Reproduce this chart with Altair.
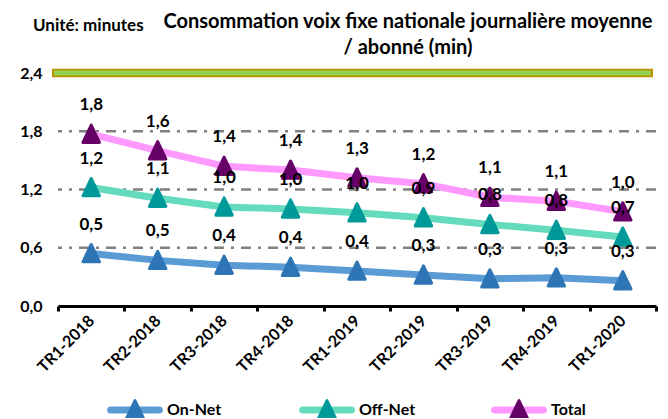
import altair as alt
import pandas as pd

categories = ["TR1-2018", "TR2-2018", "TR3-2018", "TR4-2018", "TR1-2019",
              "TR2-2019", "TR3-2019", "TR4-2019", "TR1-2020"]
series = ["On-Net", "Off-Net", "Total"]
on_net = [0.54, 0.47, 0.42, 0.40, 0.36, 0.32, 0.28, 0.29, 0.26]
off_net = [1.22, 1.11, 1.02, 1.00, 0.96, 0.91, 0.84, 0.78, 0.71]
total = [1.77, 1.60, 1.44, 1.40, 1.32, 1.26, 1.12, 1.08, 0.97]
on_net_labels = ["0,5", "0,5", "0,4", "0,4", "0,4", "0,3", "0,3", "0,3", "0,3"]
off_net_labels = ["1,2", "1,1", "1,0", "1,0", "1,0", "0,9", "0,8", "0,8", "0,7"]
total_labels = ["1,8", "1,6", "1,4", "1,4", "1,3", "1,2", "1,1", "1,1", "1,0"]
y_ticks = [0.0, 0.6, 1.2, 1.8, 2.4]
grid_values = [0.6, 1.2, 1.8]
top_value = [2.4]
title_lines = ["Consommation voix fixe nationale journalière moyenne", "/ abonné (min)"]
unit_text = ["Unité: minutes"]

line_colors = ["#5B9BD5", "#63DBBC", "#FF99FF"]
marker_colors = ["#2E75B6", "#009999", "#660066"]

FONT = "Lato"
W, H = 598, 233

rows = []
for name, vals, labs in zip(series, [on_net, off_net, total],
                            [on_net_labels, off_net_labels, total_labels]):
    for c, v, l in zip(categories, vals, labs):
        rows.append({"period": c, "series": name, "value": v, "label": l})
df = pd.DataFrame(rows)
legend_df = pd.DataFrame({"series": series})
grid_df = pd.DataFrame({"value": grid_values})
top_df = pd.DataFrame({"value": top_value})
unit_df = pd.DataFrame({"t": unit_text})
title_df = pd.DataFrame({"t": [title_lines]})

line_scale = alt.Scale(domain=series, range=line_colors)
marker_scale = alt.Scale(domain=series, range=marker_colors)
yscale = alt.Scale(domain=[0, 2.4], nice=False, zero=True)

tri = "M0,-1.05L0.95,0.95L-0.95,0.95Z"

x_enc = alt.X(
    "period:N", sort=categories, title=None,
    scale=alt.Scale(type="band", paddingInner=0, paddingOuter=0),
    axis=alt.Axis(
        labelAngle=-45, labelAlign="right", labelBaseline="middle",
        tickBand="extent", labelPadding=7, tickSize=5, tickWidth=3,
        tickColor="black", domainColor="black", domainWidth=3,
        labelFont=FONT, labelFontSize=16, labelFontWeight="bold",
        labelColor="black", grid=False,
    ),
)
y_axis = alt.Axis(
    values=y_ticks, labelExpr="replace(format(datum.value, '.1f'), '.', ',')",
    domain=False, ticks=False, grid=False, labelPadding=16,
    labelFont=FONT, labelFontSize=16, labelFontWeight="bold", labelColor="black",
)
y_enc = alt.Y("value:Q", scale=yscale, title=None, axis=y_axis)

base = alt.Chart(df)

top_brown = alt.Chart(top_df).mark_rule(color="#BF9000", strokeWidth=8.5).encode(
    y=y_enc, x=alt.value(-6), x2=alt.value(W - 3))
top_green = alt.Chart(top_df).mark_rule(color="#92D050", strokeWidth=5).encode(
    y=y_enc, x=alt.value(-4), x2=alt.value(W - 5))
grid = alt.Chart(grid_df).mark_rule(color="#808080", strokeWidth=2.5,
                                     strokeDash=[10, 7, 3, 7]).encode(y=y_enc)

lines = base.mark_line(strokeWidth=7, strokeCap="round", strokeJoin="round").encode(
    x=x_enc, y=y_enc,
    color=alt.Color("series:N", scale=line_scale, legend=None),
)
points = base.mark_point(shape=tri, size=300, filled=True, opacity=1,
                         strokeWidth=3, strokeJoin="round").encode(
    x=x_enc, y=y_enc,
    fill=alt.Fill("series:N", scale=marker_scale, legend=None),
    stroke=alt.Stroke("series:N", scale=marker_scale, legend=None),
)
labels = base.mark_text(dy=-29, font=FONT, fontSize=17, fontWeight="bold",
                        color="black").encode(
    x=x_enc, y=y_enc, text="label:N")

main = alt.layer(top_brown, top_green, grid, lines, points, labels)

leg_x = alt.X("series:N", sort=series, axis=None,
              scale=alt.Scale(type="point", domain=series, range=[77, 461], padding=0))
LEG_Y = 337
leg_line = alt.Chart(legend_df).mark_tick(orient="horizontal", size=56, thickness=7,
                                          cornerRadius=3.5, opacity=1).encode(
    x=leg_x, y=alt.value(LEG_Y),
    color=alt.Color("series:N", scale=line_scale, legend=None))
leg_pt = alt.Chart(legend_df).mark_point(shape=tri, size=320, filled=True, opacity=1,
                                         strokeWidth=3, strokeJoin="round").encode(
    x=leg_x, y=alt.value(LEG_Y),
    fill=alt.Fill("series:N", scale=marker_scale, legend=None),
    stroke=alt.Stroke("series:N", scale=marker_scale, legend=None))
leg_text = alt.Chart(legend_df).mark_text(align="left", dx=32, font=FONT, fontSize=16,
                                          fontWeight="bold", color="black").encode(
    x=leg_x, y=alt.value(LEG_Y), text="series:N")
legend = alt.layer(leg_line, leg_pt, leg_text)

unit = alt.Chart(unit_df).mark_text(align="left", baseline="middle", font=FONT,
                                    fontSize=17, fontWeight="bold", color="black").encode(
    x=alt.value(-25), y=alt.value(-47), text="t:N")
title = alt.Chart(title_df).mark_text(align="center", baseline="middle", font=FONT,
                                      fontSize=20, fontWeight="bold", color="black",
                                      lineHeight=26).encode(
    x=alt.value(350), y=alt.value(-51.5), text="t")

chart = alt.layer(main, legend, unit, title).resolve_scale(x="independent").properties(
    width=W, height=H,
    autosize=alt.AutoSizeParams(type="none"),
    padding={"left": 50, "top": 65, "right": 4, "bottom": 112},
).configure_view(stroke=None)

chart.save("out.html", embed_options={"renderer": "svg", "actions": False})
